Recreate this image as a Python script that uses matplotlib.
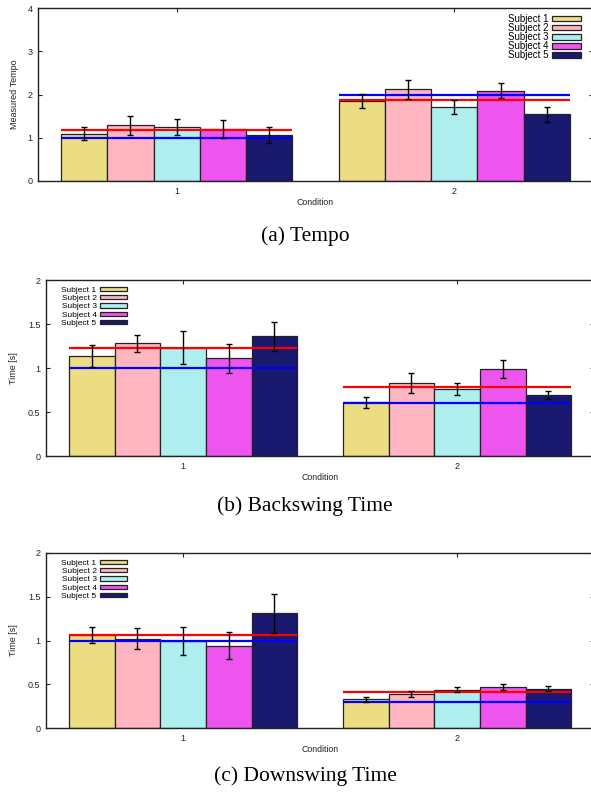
import numpy as np
import matplotlib
matplotlib.use("Agg")
import matplotlib.pyplot as plt
from matplotlib.ticker import FuncFormatter

# data
conditions = ["1", "2"]
subjects = ["Subject 1", "Subject 2", "Subject 3", "Subject 4", "Subject 5"]
colors = ["#ECDC82", "#FFB6C1", "#AFEEEE", "#EE55EE", "#191970"]

# values per subject: [condition 1, condition 2]
tempo_vals = [[1.09, 1.85], [1.29, 2.12], [1.25, 1.72], [1.21, 2.09], [1.06, 1.54]]
tempo_err = [[0.15, 0.16], [0.22, 0.22], [0.18, 0.16], [0.21, 0.17], [0.19, 0.18]]
tempo_red = [1.18, 1.88]
tempo_blue = [1.0, 2.0]

back_vals = [[1.14, 0.61], [1.28, 0.83], [1.23, 0.76], [1.11, 0.99], [1.36, 0.69]]
back_err = [[0.125, 0.06], [0.10, 0.11], [0.19, 0.072], [0.165, 0.10], [0.167, 0.044]]
back_red = [1.23, 0.78]
back_blue = [1.0, 0.60]

down_vals = [[1.06, 0.33], [1.02, 0.39], [1.0, 0.44], [0.94, 0.47], [1.31, 0.45]]
down_err = [[0.09, 0.03], [0.12, 0.03], [0.16, 0.03], [0.155, 0.037], [0.22, 0.03]]
down_red = [1.065, 0.415]
down_blue = [1.0, 0.295]

plt.rcParams["font.family"] = ["Liberation Sans", "DejaVu Sans"]

W, H = 591, 792
fig = plt.figure(figsize=(W / 100, H / 100), dpi=100)


def panel(rect_px, vals, errs, red, blue, ymax, ystep, ylabel, leg, ylab_x):
    l, t, r, b = rect_px
    ax = fig.add_axes([l / W, 1 - b / H, (r - l) / W, (b - t) / H])
    x = np.arange(len(conditions)) + 1
    w = 1 / 6
    for i, s in enumerate(subjects):
        ax.bar(x + (i - 2) * w, vals[i], w, yerr=errs[i], color=colors[i],
               edgecolor="#222222", linewidth=0.9, label=s, zorder=2,
               error_kw=dict(ecolor="black", elinewidth=1.0, capsize=2.5,
                             capthick=1.0, zorder=5))
    ax.hlines(red, x - 2.5 * w, x + 2.5 * w, color="#FF0000", lw=1.6, zorder=4)
    ax.hlines(blue, x - 2.5 * w, x + 2.5 * w, color="#0000FF", lw=1.6, zorder=4)

    ax.set_xlim(0.5, 2.5)
    ax.set_ylim(0, ymax)
    ax.set_xticks(x)
    ax.set_xticklabels(conditions)
    ax.set_yticks(np.arange(0, ymax + 0.001, ystep))
    ax.yaxis.set_major_formatter(FuncFormatter(lambda v, p: "%g" % v))
    ax.tick_params(direction="in", length=3, width=0.8, top=True, right=True,
                   labelsize=6.5, pad=4, colors="#222222")
    for sp in ax.spines.values():
        sp.set_linewidth(1.0)
        sp.set_color("#222222")
    ax.set_ylabel(ylabel, fontsize=6.5, color="#222222")
    ax.yaxis.set_label_coords(ylab_x, 0.5)
    ax.set_xlabel("Condition", fontsize=6.3, color="#222222", labelpad=2)
    ax.legend(frameon=False, markerfirst=False, handleheight=0.45,
              handletextpad=0.4, **leg)
    return ax


panel((38, 8, 593, 181), tempo_vals, tempo_err, tempo_red, tempo_blue,
      4, 1, "Measured Tempo",
      dict(loc="upper right", fontsize=7, handlelength=3.0, labelspacing=-0.1,
           borderaxespad=0.25, bbox_to_anchor=(0.99, 1.0)), -0.034)
panel((46, 280, 594, 456), back_vals, back_err, back_red, back_blue,
      2, 0.5, "Time [s]",
      dict(loc="upper left", fontsize=6, handlelength=3.2, labelspacing=0.13,
           borderaxespad=0.4, bbox_to_anchor=(0.016, 1.0)), -0.051)
panel((46, 553, 594, 728), down_vals, down_err, down_red, down_blue,
      2, 0.5, "Time [s]",
      dict(loc="upper left", fontsize=6, handlelength=3.2, labelspacing=0.13,
           borderaxespad=0.4, bbox_to_anchor=(0.016, 1.0)), -0.051)

cap_font = dict(family=["Liberation Serif", "DejaVu Serif"], fontsize=15.5,
                ha="center", va="center")
fig.text(305 / W, 1 - 236 / H, "(a) Tempo", **cap_font)
fig.text(305 / W, 1 - 506 / H, "(b) Backswing Time", **cap_font)
fig.text(305 / W, 1 - 776 / H, "(c) Downswing Time", **cap_font)

fig.savefig("out.png", dpi=100)
